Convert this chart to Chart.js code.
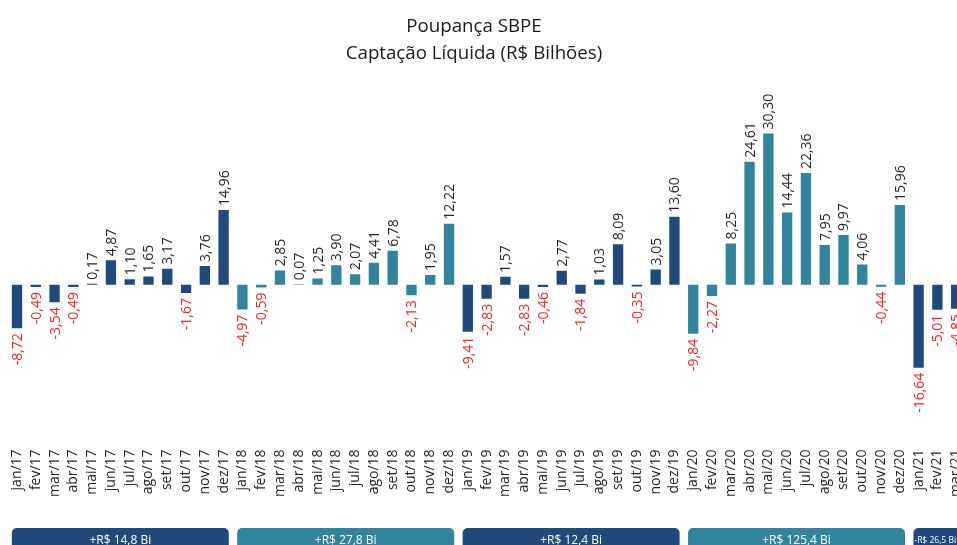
<!DOCTYPE html>
<html lang="pt-BR">
<head>
<meta charset="utf-8">
<title>Poupança SBPE</title>
<script src="https://cdn.jsdelivr.net/npm/chart.js@4.4.1/dist/chart.umd.min.js"></script>
<style>
  html, body { margin: 0; padding: 0; background: #fff; overflow: hidden; }
  #wrap { position: relative; width: 977px; height: 545px; }
  #titulo {
    position: absolute; left: 0; top: 11px; width: 948px;
    text-align: center; font-family: "Open Sans", sans-serif;
    font-size: 18.7px; line-height: 27px; color: #1a1a1a;
  }
</style>
</head>
<body>
<div id="wrap">
  <canvas id="grafica" width="977" height="545"></canvas>
  <div id="titulo">Poupança SBPE<br>Captação Líquida (R$ Bilhões)</div>
</div>
<script>
// =========================
// DATOS
// =========================
const meses = [
  "jan/17","fev/17","mar/17","abr/17","mai/17","jun/17","jul/17","ago/17","set/17","out/17","nov/17","dez/17",
  "jan/18","fev/18","mar/18","abr/18","mai/18","jun/18","jul/18","ago/18","set/18","out/18","nov/18","dez/18",
  "jan/19","fev/19","mar/19","abr/19","mai/19","jun/19","jul/19","ago/19","set/19","out/19","nov/19","dez/19",
  "jan/20","fev/20","mar/20","abr/20","mai/20","jun/20","jul/20","ago/20","set/20","out/20","nov/20","dez/20",
  "jan/21","fev/21","mar/21"
];

const captacao = [
  -8.72, -0.49, -3.54, -0.49, 0.17, 4.87, 1.10, 1.65, 3.17, -1.67, 3.76, 14.96,
  -4.97, -0.59, 2.85, 0.07, 1.25, 3.90, 2.07, 4.41, 6.78, -2.13, 1.95, 12.22,
  -9.41, -2.83, 1.57, -2.83, -0.46, 2.77, -1.84, 1.03, 8.09, -0.35, 3.05, 13.60,
  -9.84, -2.27, 8.25, 24.61, 30.30, 14.44, 22.36, 7.95, 9.97, 4.06, -0.44, 15.96,
  -16.64, -5.01, -4.85
];

const totaisAno = ["+R$ 14,8 Bi", "+R$ 27,8 Bi", "+R$ 12,4 Bi", "+R$ 125,4 Bi", "-R$ 26,5 Bi"];

const AZUL = "#1f4a7b";
const VERDE = "#31849b";
const coresAno = [AZUL, VERDE, AZUL, VERDE, AZUL];
const ANCHO_VISIBLE = 957;

const coresBarras = captacao.map((v, i) => coresAno[Math.floor(i / 12)]);

// =========================
// ETIQUETAS DE VALOR
// =========================
const etiquetas = {
  id: "etiquetas",
  afterDatasetsDraw(chart) {
    const { ctx } = chart;
    const barras = chart.getDatasetMeta(0).data;
    ctx.save();
    ctx.font = '14px "Open Sans"';
    ctx.textBaseline = "middle";
    barras.forEach((bar, i) => {
      const v = captacao[i];
      const txt = v.toFixed(2).replace(".", ",");
      ctx.save();
      ctx.translate(bar.x + 1, v >= 0 ? bar.y - 4 : bar.y + 5);
      ctx.rotate(-Math.PI / 2);
      ctx.textAlign = v >= 0 ? "left" : "right";
      ctx.fillStyle = v >= 0 ? "#262626" : "#ff2020";
      ctx.fillText(txt, 0, 0);
      ctx.restore();
    });
    ctx.restore();
  }
};

// =========================
// CAJAS POR AÑO
// =========================
const cajas = {
  id: "cajas",
  afterDraw(chart) {
    const { ctx } = chart;
    const barras = chart.getDatasetMeta(0).data;
    ctx.save();
    totaisAno.forEach((txt, k) => {
      const primero = k * 12;
      const ultimo = primero + 11;
      const x0 = barras[primero].x - barras[primero].width / 2;
      const x1 = ultimo < barras.length
        ? barras[ultimo].x + barras[ultimo].width / 2
        : chart.width + 20;
      ctx.fillStyle = coresAno[k];
      ctx.beginPath();
      ctx.roundRect(x0, 528, x1 - x0, 40, 5);
      ctx.fill();
      const parcial = ultimo >= barras.length;
      ctx.fillStyle = "#ffffff";
      ctx.textAlign = "center";
      ctx.textBaseline = "middle";
      ctx.font = parcial ? '8.5px "Open Sans"' : '12px "Open Sans"';
      const xc = (x0 + Math.min(x1, ANCHO_VISIBLE)) / 2;
      ctx.fillText(txt, xc, 541);
    });
    ctx.restore();
  }
};

// =========================
// GRÁFICA
// =========================
new Chart(document.getElementById("grafica"), {
  type: "bar",
  data: {
    labels: meses,
    datasets: [{
      data: captacao,
      backgroundColor: coresBarras,
      barPercentage: 0.55,
      categoryPercentage: 1
    }]
  },
  options: {
    responsive: false,
    animation: false,
    layout: { padding: { left: 7.6, right: 1, top: 80, bottom: 44 } },
    plugins: {
      legend: { display: false },
      tooltip: { enabled: false },
      title: { display: false }
    },
    scales: {
      y: { display: false, min: -32.2, max: 41 },
      x: {
        grid: { display: false, drawTicks: false },
        border: { display: false },
        ticks: {
          autoSkip: false,
          minRotation: 90,
          maxRotation: 90,
          padding: 4,
          color: "#262626",
          font: { family: "Open Sans", size: 14 }
        }
      }
    }
  },
  plugins: [etiquetas, cajas]
});
</script>
</body>
</html>
